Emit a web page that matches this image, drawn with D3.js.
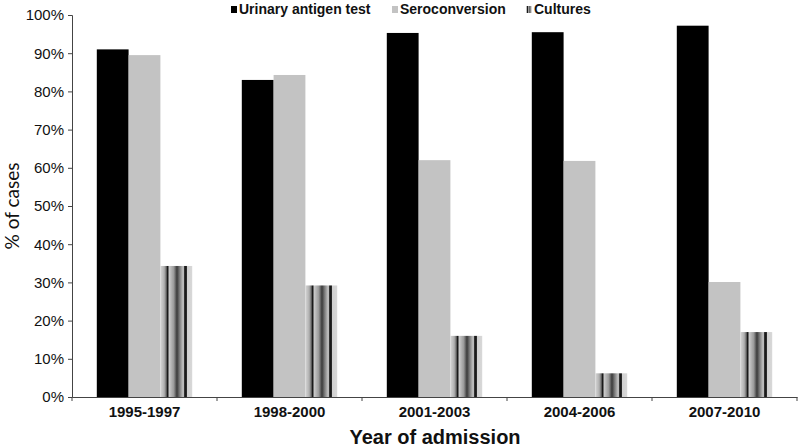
<!DOCTYPE html>
<html><head><meta charset="utf-8">
<script src="https://cdn.jsdelivr.net/npm/d3@7"></script>
<style>body{margin:0;background:#fff}svg{display:block}</style>
</head><body><svg id="c" width="800" height="447"></svg>
<script>
const categories = ["1995-1997","1998-2000","2001-2003","2004-2006","2007-2010"];
const seriesNames = ["Urinary antigen test","Seroconversion","Cultures"];
const urinary = [91.0, 83.0, 95.3, 95.5, 97.2];
const seroconversion = [89.5, 84.3, 62.0, 61.8, 30.1];
const cultures = [34.3, 29.2, 16.0, 6.2, 17.0];
const yTicks = [0,10,20,30,40,50,60,70,80,90,100];

const svg = d3.select("#c");
const m = {l:72, r:3, t:15, b:50};
const W = 800, H = 447;
const x0 = d3.scaleBand().domain(categories).range([m.l, W - m.r]).paddingInner(0).paddingOuter(0);
const x1 = d3.scaleBand().domain(seriesNames).range([0, x0.bandwidth()]).paddingOuter(0.78).paddingInner(0);
const y = d3.scaleLinear().domain([0,100]).range([H - m.b, m.t]);

const defs = svg.append("defs");
const g = defs.append("linearGradient").attr("id","cult").attr("x1","0").attr("x2","1").attr("y1","0").attr("y2","0");
[[0,"#d6d6d6"],[0.12,"#b0b0b0"],[0.19,"#6a6a6a"],[0.2,"#1a1a1a"],[0.25,"#1a1a1a"],[0.26,"#d0d0d0"],[0.42,"#9a9a9a"],[0.52,"#3a3a3a"],[0.6,"#777"],[0.72,"#c8c8c8"],[0.75,"#8a8a8a"],[0.76,"#1a1a1a"],[0.82,"#1a1a1a"],[0.83,"#d0d0d0"],[1,"#d8d8d8"]]
  .forEach(([o,c]) => g.append("stop").attr("offset",o).attr("stop-color",c));

const fills = {"Urinary antigen test":"#000000","Seroconversion":"#c3c3c3","Cultures":"url(#cult)"};
const data = categories.map((c,i)=>({cat:c, vals:[
  {s:seriesNames[0], v:urinary[i]},{s:seriesNames[1], v:seroconversion[i]},{s:seriesNames[2], v:cultures[i]}]}));

svg.append("g").selectAll("g").data(data).join("g")
  .attr("transform", d=>`translate(${x0(d.cat)},0)`)
  .selectAll("rect").data(d=>d.vals).join("rect")
  .attr("x", d=>x1(d.s)).attr("width", x1.bandwidth())
  .attr("y", d=>y(d.v)).attr("height", d=>y(0)-y(d.v))
  .attr("fill", d=>fills[d.s]);

// Y axis
const ya = svg.append("g").attr("transform",`translate(${m.l},0)`)
  .call(d3.axisLeft(y).tickValues(yTicks).tickSize(4).tickFormat(d=>d+"%"));
ya.selectAll("text").attr("font-family","Liberation Sans, Arial, sans-serif").attr("font-size","15px").attr("fill","#111").attr("dx","-1");
ya.select(".domain").attr("stroke","#444");
ya.selectAll(".tick line").attr("stroke","#444");

// X axis
const xa = svg.append("g").attr("transform",`translate(0,${y(0)})`)
  .call(d3.axisBottom(x0).tickSize(0).tickPadding(9));
xa.selectAll("text").attr("font-family","Liberation Sans, Arial, sans-serif").attr("font-size","15px").attr("font-weight","bold").attr("fill","#111");
xa.select(".domain").attr("stroke","#444");
const bounds = categories.map(c=>x0(c)).concat([x0(categories[categories.length-1])+x0.bandwidth()]);
xa.selectAll("line.b").data(bounds).join("line").attr("class","b")
  .attr("x1",d=>d).attr("x2",d=>d).attr("y1",0).attr("y2",4).attr("stroke","#444");

// Axis titles
svg.append("text").attr("transform","translate(19,206) rotate(-90)").attr("text-anchor","middle")
  .attr("font-family","Lato, Open Sans, sans-serif").attr("font-size","19px").attr("fill","#111").text("% of cases");
svg.append("text").attr("x",435).attr("y",444).attr("text-anchor","middle")
  .attr("font-family","Liberation Sans, Arial, sans-serif").attr("font-size","20px").attr("font-weight","bold").attr("fill","#111").text("Year of admission");

// Legend
const legX = [231, 392, 526];
const lg = svg.append("g").selectAll("g").data(seriesNames).join("g")
  .attr("transform",(d,i)=>`translate(${legX[i]},0)`);
lg.append("rect").attr("x",0).attr("y",6).attr("width",6).attr("height",7).attr("fill",d=>fills[d]);
lg.append("text").attr("x",8).attr("y",14).attr("font-family","Liberation Sans, Arial, sans-serif")
  .attr("font-size","14px").attr("font-weight","bold").attr("fill","#111").text(d=>d);
</script></body></html>
